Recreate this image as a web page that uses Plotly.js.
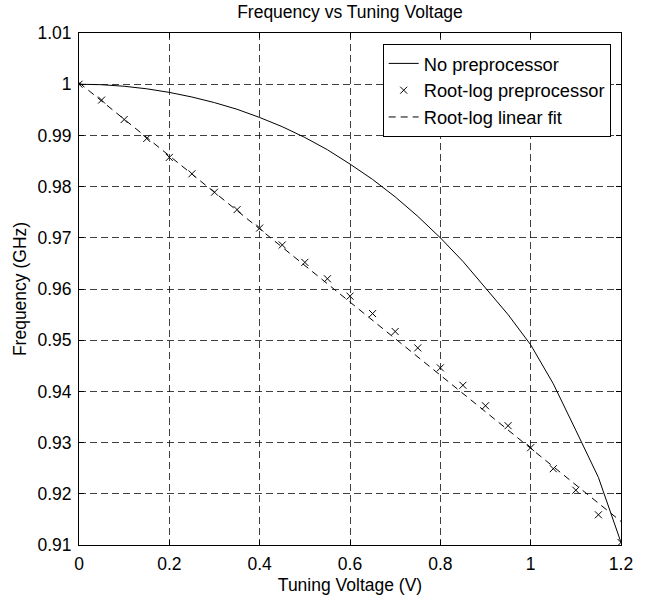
<!DOCTYPE html>
<html>
<head>
<meta charset="utf-8">
<script src="https://cdn.plot.ly/plotly-3.0.1.min.js"></script>
<style>html,body{margin:0;padding:0;background:#fff;}#chart{width:652px;height:602px;}</style>
</head>
<body>
<div id="chart"></div>
<script>
// Tuning voltage samples (V)
const voltage = [0, 0.05, 0.1, 0.15, 0.2, 0.25, 0.3, 0.35, 0.4, 0.45, 0.5, 0.55, 0.6,
                 0.65, 0.7, 0.75, 0.8, 0.85, 0.9, 0.95, 1.0, 1.05, 1.1, 1.15, 1.2];
// Frequency without preprocessor (GHz)
const noPreprocessor = [1.0000, 0.9999, 0.9996, 0.9991, 0.9984, 0.9975, 0.9964, 0.9951, 0.9935,
                        0.9917, 0.9896, 0.9872, 0.9844, 0.9814, 0.9780, 0.9742, 0.9700, 0.9654,
                        0.9602, 0.9550, 0.9491, 0.9415, 0.9324, 0.9232, 0.9105];
// Frequency with root-log preprocessor (GHz)
const rootLog = [1.0000, 0.9969, 0.9931, 0.9894, 0.9857, 0.9825, 0.9789, 0.9755, 0.9719,
                 0.9686, 0.9652, 0.9620, 0.9586, 0.9552, 0.9517, 0.9485, 0.9446, 0.9412,
                 0.9372, 0.9333, 0.9290, 0.9249, 0.9207, 0.9159, 0.9105];
// Root-log linear fit end points
const fitVoltage = [0, 1.2];
const fitFrequency = [1.0003, 0.9146];

const xTickVals = [0, 0.2, 0.4, 0.6, 0.8, 1, 1.2];
const xTickText = ['0', '0.2', '0.4', '0.6', '0.8', '1', '1.2'];
const yTickVals = [0.91, 0.92, 0.93, 0.94, 0.95, 0.96, 0.97, 0.98, 0.99, 1, 1.01];
const yTickText = ['0.91', '0.92', '0.93', '0.94', '0.95', '0.96', '0.97', '0.98', '0.99', '1', '1.01'];

const FONT = 'Liberation Sans, Arial, Helvetica, sans-serif';
const FS = 17.5;

const traces = [
  {
    x: voltage, y: noPreprocessor, type: 'scatter', mode: 'lines',
    name: 'No preprocessor',
    line: {color: '#000', width: 1}
  },
  {
    x: voltage, y: rootLog, type: 'scatter', mode: 'markers',
    name: 'Root-log preprocessor',
    marker: {symbol: 'x-thin', size: 7, color: '#000', line: {color: '#000', width: 1}}
  },
  {
    x: fitVoltage, y: fitFrequency, type: 'scatter', mode: 'lines',
    name: 'Root-log linear fit',
    line: {color: '#000', width: 1, dash: '7px,5px'}
  }
];

const axisCommon = {
  showline: true, linecolor: '#000', linewidth: 1, mirror: 'ticks',
  ticks: 'inside', ticklen: 5, tickcolor: '#000', tickwidth: 1,
  showgrid: true, gridcolor: 'rgba(0,0,0,0.75)', gridwidth: 1, griddash: '7px,4px',
  zeroline: false,
  tickfont: {family: FONT, size: FS, color: '#000'},
  automargin: false
};

const layout = {
  width: 652, height: 602,
  paper_bgcolor: '#fff', plot_bgcolor: '#fff',
  margin: {l: 79, r: 31, t: 33, b: 57},
  font: {family: FONT, size: FS, color: '#000'},
  title: {text: 'Frequency vs Tuning Voltage', font: {family: FONT, size: FS, color: '#000'},
          x: 0.5, xref: 'paper', xanchor: 'center', y: 1 - 12/602, yref: 'container', yanchor: 'middle'},
  xaxis: Object.assign({}, axisCommon, {
    range: [0, 1.2], tickmode: 'array', tickvals: xTickVals, ticktext: xTickText,
    ticklabelstandoff: 3,
    title: {text: 'Tuning Voltage (V)', font: {family: FONT, size: FS, color: '#000'}, standoff: 5}
  }),
  yaxis: Object.assign({}, axisCommon, {
    range: [0.91, 1.01], tickmode: 'array', tickvals: yTickVals, ticktext: yTickText,
    ticklabelstandoff: 3,
    title: {text: 'Frequency (GHz)', font: {family: FONT, size: FS, color: '#000'}, standoff: 6}
  }),
  showlegend: true,
  legend: {
    x: 0.981, y: 0.9785, xanchor: 'right', yanchor: 'top',
    bgcolor: '#fff', bordercolor: '#000', borderwidth: 1,
    font: {family: FONT, size: 18.3, color: '#000'},
    tracegroupgap: 0
  }
};

Plotly.newPlot('chart', traces, layout, {displayModeBar: false, staticPlot: true});
</script>
</body>
</html>
